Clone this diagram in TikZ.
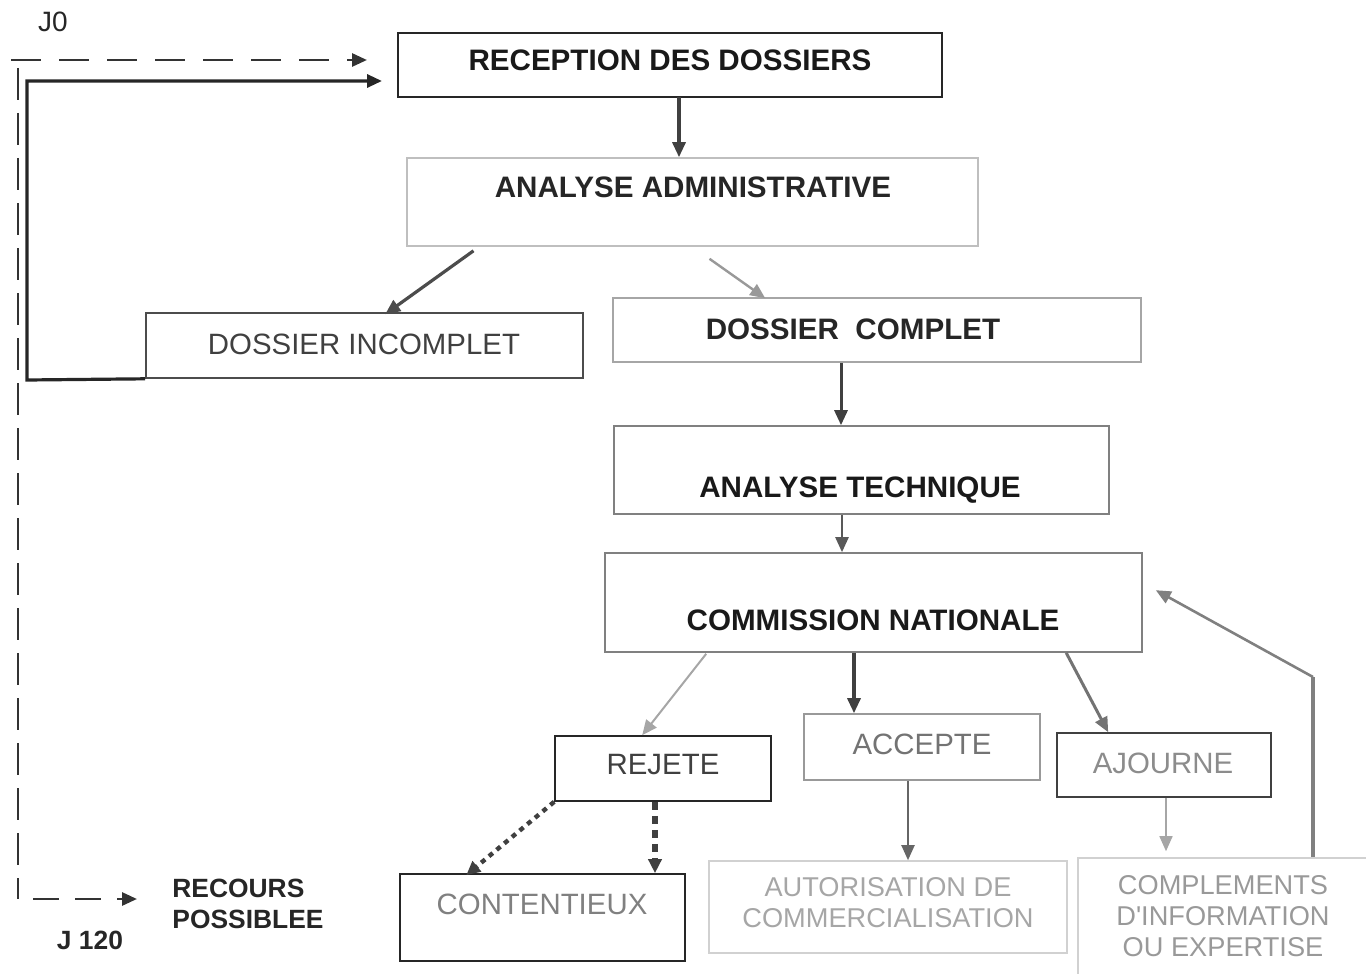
\documentclass[tikz,border=0pt]{standalone}
\usepackage{fontspec}
\setmainfont{Liberation Sans}
\newfontfamily\lsans{Liberation Sans}
\usetikzlibrary{arrows.meta,fit,calc}
\tikzset{
  box/.style={draw=#1, line width=0.8pt, inner sep=0pt, fill=none},
  bt/.style={font=\fontsize{14.8pt}{16pt}\selectfont\bfseries, text=#1, inner sep=0pt},
  rt/.style={font=\fontsize{14.7pt}{16pt}\selectfont, text=#1, inner sep=0pt},
  st/.style={font=\lsans\fontsize{13.6pt}{15.5pt}\selectfont, text=#1, inner sep=0pt, align=center},
  tip/.style={-{Triangle[length=7.5pt,width=6.5pt]}},
  flow/.style={tip, line width=#1},
}
\begin{document}
\begin{tikzpicture}[x=0.5pt,y=-0.5pt]
\path[use as bounding box] (0,0) rectangle (1366,974);
% boxes
\node[box=black!85, fit={(398,33)(942,97)}] (rec) {};
\node[box=black!25, fit={(407,158)(978,246)}] (adm) {};
\node[box=black!70, fit={(146,313)(583,378)}] (inc) {};
\node[box=black!35, fit={(613,298)(1141,362)}] (com) {};
\node[box=black!50, fit={(614,426)(1109,514)}] (tec) {};
\node[box=black!50, fit={(605,553)(1142,652)}] (cn) {};
\node[box=black!85, fit={(555,736)(771,801)}] (rej) {};
\node[box=black!40, fit={(804,714)(1040,780)}] (acc) {};
\node[box=black!75, fit={(1057,733)(1271,797)}] (ajo) {};
\node[box=black!85, fit={(400,874)(685,961)}] (cont) {};
\node[box=black!18, fit={(709,861)(1067,953)}] (aut) {};
\node[box=black!18, fit={(1078,858)(1380,990)}] (cpl) {};
% texts
\node[bt=black!90] at (670,60) {RECEPTION DES DOSSIERS};
\node[bt=black!85] at (693,187) {ANALYSE ADMINISTRATIVE};
\node[rt=black!75] at (364,344) {DOSSIER INCOMPLET};
\node[bt=black!85] at (853,329) {DOSSIER\ \ COMPLET};
\node[bt=black!90] at (860,490) {ANALYSE TECHNIQUE};
\node[bt=black!90] at (873,620) {COMMISSION NATIONALE};
\node[rt=black!75] at (663,765) {REJETE};
\node[rt=black!55] at (922,744) {ACCEPTE};
\node[rt=black!45] at (1163,763) {AJOURNE};
\node[rt=black!50] at (542,904) {CONTENTIEUX};
\node[st=black!35] at (888,903) {AUTORISATION DE\\COMMERCIALISATION};
\node[st=black!40] at (1223,916) {COMPLEMENTS\\D'INFORMATION\\OU EXPERTISE};
\node[font=\fontsize{14pt}{16pt}\selectfont, text=black!85, inner sep=0pt] at (53,22) {J0};
\node[font=\fontsize{13.2pt}{15.5pt}\selectfont\bfseries, text=black!85, inner sep=0pt, align=left, anchor=west] at (172,904) {RECOURS\\POSSIBLEE};
\node[font=\fontsize{13.2pt}{15.5pt}\selectfont\bfseries, text=black!85, inner sep=0pt] at (90,940) {J 120};
% coordinates for free ends
\coordinate (ld) at (11,60);
\coordinate (le) at (367,60);
\coordinate (lv) at (18,68);
\coordinate (lr) at (137,899);
\coordinate (ls) at (27,380);
\coordinate (lt) at (382,81);
\coordinate (fb) at (1313,677);
% connectors
\draw[flow=1.6pt, black!75] (679,97) -- (adm.north -| 679,0);
\draw[flow=1.6pt, black!70] ($(adm.south)+(-219,4)$) -- ($(inc.north west)+(240,2)$);
\draw[flow=1.2pt, black!40] ($(adm.south)+(17,12)$) -- ($(com.north west)+(153,1)$);
\draw[flow=1.5pt, black!75] (com.south -| 841,0) -- (tec.north -| 841,0);
\draw[flow=1.2pt, black!65] (tec.south -| 842,0) -- (cn.north -| 842,0);
\draw[flow=1pt, black!35] ($(cn.south west)+(102,1)$) -- ($(rej.north west)+(88,0)$);
\draw[flow=1.6pt, black!75] (cn.south -| 854,0) -- (acc.north -| 854,0);
\draw[flow=1.5pt, black!55] ($(cn.south west)+(462,0)$) -- ($(ajo.north west)+(52,0)$);
\draw[flow=1pt, black!60] (acc.south -| 908,0) -- (aut.north -| 908,0);
\draw[flow=0.8pt, black!35] (ajo.south -| 1166,0) -- ($(cpl.north -| 1166,0)+(0,-6)$);
\draw[line width=2.4pt, black!50, line cap=butt] (cpl.north -| 1313,0) -- (fb);
\draw[flow=1.3pt, black!50] (fb) -- ($(cn.north east)+(13,38)$);
% REJETE to CONTENTIEUX
\draw[line width=2.2pt, black!75, dash pattern=on 2.5pt off 2.5pt, -{Triangle[length=7pt,width=6.5pt]}] (rej.south west) -- ($(cont.north west)+(67,2)$);
\draw[line width=2.6pt, black!75, dash pattern=on 4pt off 3pt, -{Triangle[length=7pt,width=6.5pt]}] (rej.south -| 655,0) -- (cont.north -| 655,0);
% incomplete loop
\draw[flow=1.6pt, black!85] (inc.south west) -- (ls) |- (lt);
% dashed timeline
\draw[flow=1.4pt, black!80, dash pattern=on 15pt off 9pt] (ld) -- (le);
\draw[line width=1.4pt, black!80, dash pattern=on 16pt off 6.5pt] (lv) -- (18,899);
\draw[flow=1.4pt, black!80, dash pattern=on 13pt off 8pt] (33,899) -- (lr);
\end{tikzpicture}
\end{document}
